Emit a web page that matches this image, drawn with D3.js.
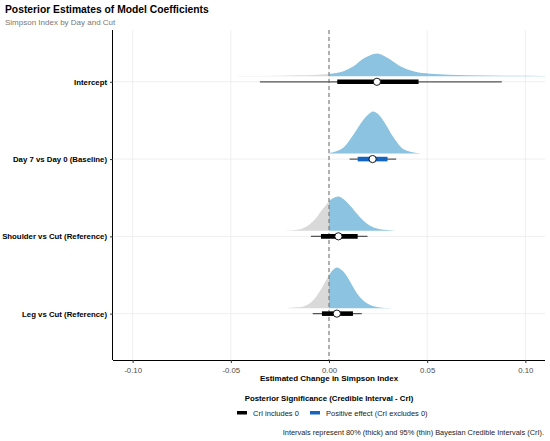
<!DOCTYPE html>
<html><head><meta charset="utf-8">
<script src="https://cdn.jsdelivr.net/npm/d3@7"></script>
<style>body{margin:0;background:#fff;} text{font-family:"Liberation Sans",Arial,sans-serif;}</style>
</head><body>
<svg id="chart" width="550" height="441"></svg>
<script>
// ---- data ----
const terms = ["Intercept", "Day 7 vs Day 0 (Baseline)", "Shoulder vs Cut (Reference)", "Leg vs Cut (Reference)"];
const rowPos = [4, 3, 2, 1];
const medians = [0.0244, 0.0222, 0.0048, 0.0040];
const lo95 = [-0.0352, 0.0105, -0.0092, -0.0083];
const hi95 = [0.0880, 0.0342, 0.0196, 0.0167];
const lo80 = [0.0042, 0.0146, -0.0041, -0.0036];
const hi80 = [0.0456, 0.0298, 0.0146, 0.0122];
const significance = ["CrI includes 0", "Positive effect (CrI excludes 0)", "CrI includes 0", "CrI includes 0"];
// density curves (x value, relative height)
const densX_intercept = [-0.046, -0.035, -0.015, 0, 0.0074, 0.0125, 0.0176, 0.021, 0.0244, 0.0278, 0.0312, 0.0363, 0.043, 0.0515, 0.07, 0.09, 0.11];
const densH_intercept = [0.004, 0.008, 0.022, 0.057, 0.119, 0.238, 0.421, 0.50, 0.540, 0.49, 0.398, 0.238, 0.119, 0.060, 0.025, 0.013, 0.009];
const densX_day7 = [-0.001, 0.0015, 0.0074, 0.0125, 0.0176, 0.020, 0.0224, 0.025, 0.0278, 0.0329, 0.038, 0.0448, 0.050];
const densH_day7 = [0, 0.024, 0.143, 0.452, 0.810, 0.93, 1.0, 0.94, 0.776, 0.381, 0.102, 0.014, 0];
const densX_shoulder = [-0.022, -0.0146, -0.0078, -0.0027, 0.0002, 0.0025, 0.0049, 0.0075, 0.0108, 0.0159, 0.021, 0.0278, 0.034];
const densH_shoulder = [0.007, 0.040, 0.238, 0.548, 0.714, 0.786, 0.819, 0.75, 0.595, 0.319, 0.119, 0.024, 0.005];
const densX_leg = [-0.021, -0.0146, -0.0078, -0.0027, 0.0002, 0.002, 0.004, 0.0065, 0.0092, 0.0142, 0.0193, 0.026, 0.031];
const densH_leg = [0.005, 0.024, 0.2, 0.557, 0.795, 0.905, 0.969, 0.905, 0.755, 0.357, 0.119, 0.017, 0.002];
const densX = [densX_intercept, densX_day7, densX_shoulder, densX_leg];
const densH = [densH_intercept, densH_day7, densH_shoulder, densH_leg];
const xTicks = [-0.10, -0.05, 0.00, 0.05, 0.10];
const legendLabels = ["CrI includes 0", "Positive effect (CrI excludes 0)"];
const legendColors = ["#000000", "#1565C0"];

// ---- layout ----
const svg = d3.select("#chart");
const pL = 113, pR = 545, pT = 30, pB = 360;
const x = d3.scaleLinear().domain([-0.11, 0.11]).range([pL, pR]);
const y = d3.scaleLinear().domain([0.4, 4.67]).range([pB, pT]);
const h = d3.scaleLinear().domain([0, 1]).range([0, 42]);
const sigColor = d3.scaleOrdinal().domain(legendLabels).range(legendColors);
const slabOffset = 5.5;

// grid
const g = svg.append("g");
g.selectAll(".vg").data(xTicks).join("line")
  .attr("x1", d => x(d)).attr("x2", d => x(d)).attr("y1", pT).attr("y2", pB)
  .attr("stroke", "#ebebeb").attr("stroke-width", 0.8);
g.selectAll(".hg").data(rowPos).join("line")
  .attr("x1", pL).attr("x2", pR).attr("y1", d => y(d)).attr("y2", d => y(d))
  .attr("stroke", "#ebebeb").attr("stroke-width", 0.8);

// clip paths for sign split
const defs = svg.append("defs");
defs.append("clipPath").attr("id", "neg").append("rect")
  .attr("x", pL).attr("y", pT).attr("width", x(0) - pL).attr("height", pB - pT);
defs.append("clipPath").attr("id", "pos").append("rect")
  .attr("x", x(0)).attr("y", pT).attr("width", pR - x(0)).attr("height", pB - pT);
defs.append("clipPath").attr("id", "panel").append("rect")
  .attr("x", pL).attr("y", pT).attr("width", pR - pL).attr("height", pB - pT);

// slabs
terms.forEach((t, i) => {
  const base = y(rowPos[i]) - slabOffset;
  const pts = densX[i].map((v, j) => [v, densH[i][j]]);
  const area = d3.area().x(d => x(d[0])).y0(base).y1(d => base - h(d[1])).curve(d3.curveMonotoneX);
  const gp = svg.append("g").attr("clip-path", "url(#panel)");
  gp.append("path").attr("d", area(pts)).attr("fill", "#d9d9d9").attr("clip-path", "url(#neg)");
  gp.append("path").attr("d", area(pts)).attr("fill", "#8cc3e0").attr("clip-path", "url(#pos)");
});

// zero line
svg.append("line").attr("x1", x(0)).attr("x2", x(0)).attr("y1", pT).attr("y2", pB)
  .attr("stroke", "#777").attr("stroke-width", 1.1).attr("stroke-dasharray", "4,3");

// intervals
terms.forEach((t, i) => {
  const yy = y(rowPos[i]);
  svg.append("line").attr("x1", x(lo95[i])).attr("x2", x(hi95[i])).attr("y1", yy).attr("y2", yy)
    .attr("stroke", "#555").attr("stroke-width", 1.2);
  svg.append("line").attr("x1", x(lo80[i])).attr("x2", x(hi80[i])).attr("y1", yy).attr("y2", yy)
    .attr("stroke", sigColor(significance[i])).attr("stroke-width", 4.6);
  svg.append("circle").attr("cx", x(medians[i])).attr("cy", yy).attr("r", 3.6)
    .attr("fill", "#fff").attr("stroke", "#000").attr("stroke-width", 0.9);
});

// axes
const xAxis = svg.append("g").attr("transform", `translate(0,${pB})`)
  .call(d3.axisBottom(x).tickValues(xTicks).tickFormat(d3.format(".2f")).tickSize(3).tickSizeOuter(0));
xAxis.select(".domain").attr("stroke", "#000").attr("stroke-width", 1).attr("d", `M${pL},0.5H${pR}`);
xAxis.selectAll(".tick line").attr("stroke", "#333");
xAxis.selectAll(".tick text").attr("font-size", 7.8).attr("fill", "#4d4d4d").attr("dy", "0.9em")
  .text(d => d === 0 ? "0.00" : d3.format(".2f")(d).replace("−", "-"));

const yAxis = svg.append("g").attr("transform", `translate(${pL},0)`)
  .call(d3.axisLeft(y).tickValues(rowPos).tickFormat((d, i) => terms[i]).tickSize(3).tickSizeOuter(0));
yAxis.select(".domain").attr("stroke", "#000").attr("stroke-width", 1).attr("d", `M-0.5,${pT}V${pB}`);
yAxis.selectAll(".tick line").attr("stroke", "#333");
yAxis.selectAll(".tick text").attr("font-size", 7.8).attr("font-weight", "bold").attr("fill", "#000");

// titles
svg.append("text").attr("x", 5).attr("y", 13).attr("font-size", 10.3).attr("font-weight", "bold")
  .attr("fill", "#000").text("Posterior Estimates of Model Coefficients");
svg.append("text").attr("x", 5).attr("y", 24.5).attr("font-size", 8).attr("fill", "#777")
  .text("Simpson Index by Day and Cut");
svg.append("text").attr("x", (pL + pR) / 2).attr("y", 381).attr("text-anchor", "middle")
  .attr("font-size", 8).attr("font-weight", "bold").attr("fill", "#000")
  .text("Estimated Change in Simpson Index");

// legend
svg.append("text").attr("x", 329).attr("y", 401).attr("text-anchor", "middle")
  .attr("font-size", 7.8).attr("font-weight", "bold").attr("fill", "#000")
  .text("Posterior Significance (Credible Interval - CrI)");
const legX = [237, 310];
legendLabels.forEach((l, i) => {
  svg.append("rect").attr("x", legX[i]).attr("y", 411).attr("width", 10).attr("height", 3.5)
    .attr("fill", legendColors[i]);
  svg.append("text").attr("x", legX[i] + 16).attr("y", 415.5).attr("font-size", 7.5).attr("fill", "#222").text(l);
});
svg.append("text").attr("x", 544).attr("y", 434.5).attr("text-anchor", "end").attr("font-size", 7.4)
  .attr("fill", "#222").text("Intervals represent 80% (thick) and 95% (thin) Bayesian Credible Intervals (CrI).");
</script>
</body></html>
